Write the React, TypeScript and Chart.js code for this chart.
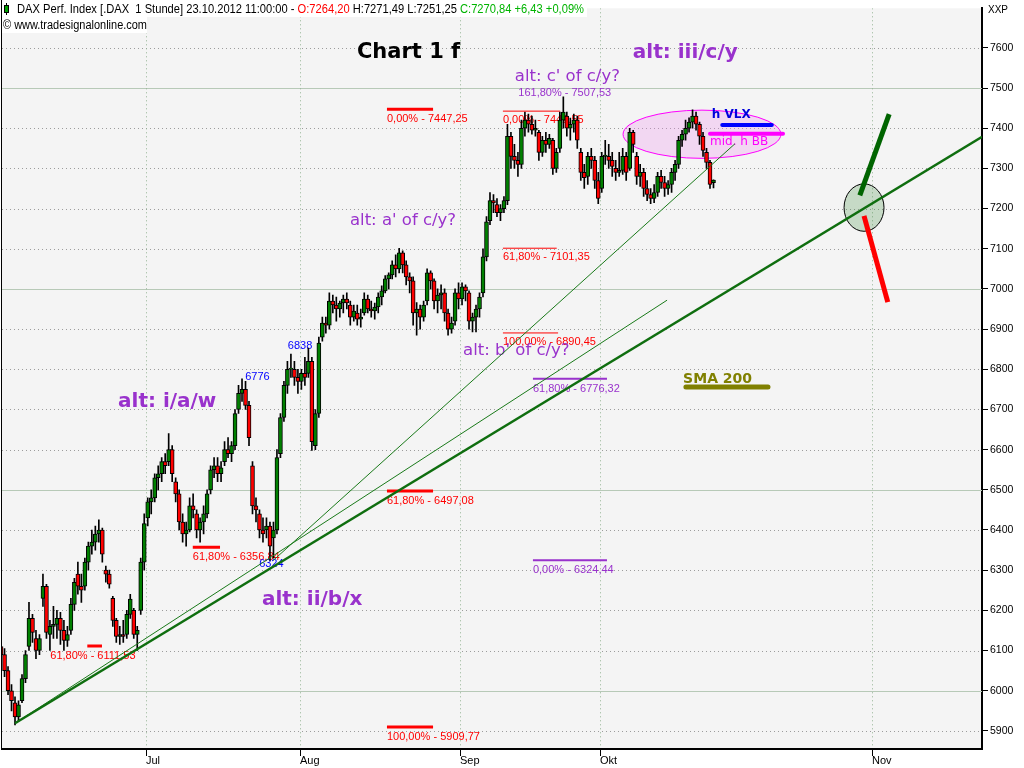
import { useEffect, useRef } from 'react';
import { Chart, registerables } from 'chart.js';

Chart.register(...registerables);

// ---------------- data ----------------
// x unit = trading-day index (0 = Fri 1 Jun 2012); two half-day candles per day: [open, high, low, close]
const juneCandles: number[][] = [
  [6110, 6130, 6080, 6090], [6090, 6105, 6035, 6050],
  [6050, 6060, 5990, 6000], [6000, 6015, 5950, 5975],
  [5970, 5985, 5915, 5935], [5935, 5975, 5925, 5965],
  [5975, 6040, 5970, 6030], [6030, 6100, 6020, 6090],
  [6110, 6220, 6100, 6180], [6180, 6190, 6120, 6145],
  [6130, 6150, 6080, 6100], [6100, 6140, 6090, 6130],
  [6230, 6290, 6210, 6260], [6260, 6265, 6130, 6145],
  [6140, 6175, 6100, 6160], [6160, 6210, 6130, 6165],
  [6165, 6200, 6130, 6180], [6180, 6195, 6115, 6150],
  [6150, 6175, 6100, 6125], [6125, 6160, 6110, 6140],
  [6150, 6230, 6140, 6215], [6215, 6280, 6200, 6270],
  [6290, 6320, 6240, 6260], [6260, 6290, 6220, 6250],
  [6260, 6330, 6250, 6320], [6320, 6370, 6300, 6360],
  [6360, 6400, 6340, 6370], [6370, 6410, 6350, 6390],
  [6390, 6425, 6370, 6400], [6400, 6405, 6320, 6340],
  [6300, 6310, 6270, 6290], [6290, 6300, 6255, 6265],
  [6230, 6235, 6160, 6175], [6175, 6180, 6120, 6135],
  [6135, 6160, 6115, 6140], [6140, 6175, 6120, 6135],
  [6140, 6200, 6130, 6190], [6190, 6240, 6180, 6228],
  [6200, 6205, 6130, 6140], [6140, 6160, 6100, 6150],
  [6200, 6330, 6190, 6320], [6320, 6440, 6300, 6416],
];
const julyCandles: number[][] = [
  [6430, 6480, 6410, 6470], [6470, 6500, 6440, 6480],
  [6480, 6540, 6470, 6530], [6530, 6560, 6500, 6540],
  [6540, 6580, 6520, 6570], [6570, 6590, 6540, 6560],
  [6570, 6640, 6560, 6600], [6600, 6610, 6520, 6540],
  [6520, 6530, 6470, 6490], [6490, 6500, 6400, 6420],
  [6420, 6440, 6370, 6390], [6390, 6420, 6360, 6400],
  [6400, 6480, 6395, 6460], [6460, 6490, 6430, 6450],
  [6440, 6450, 6380, 6400], [6400, 6430, 6370, 6420],
  [6420, 6460, 6390, 6440], [6440, 6500, 6430, 6490],
  [6500, 6560, 6490, 6550], [6550, 6580, 6530, 6560],
  [6560, 6580, 6520, 6540], [6540, 6570, 6520, 6555],
  [6570, 6620, 6560, 6600], [6600, 6630, 6580, 6590],
  [6590, 6620, 6570, 6610], [6610, 6700, 6600, 6690],
  [6700, 6760, 6690, 6740], [6740, 6776, 6720, 6750],
  [6750, 6770, 6700, 6710], [6710, 6720, 6610, 6630],
  [6560, 6570, 6440, 6460], [6460, 6480, 6420, 6450],
  [6440, 6450, 6380, 6400], [6400, 6430, 6370, 6390],
  [6400, 6430, 6380, 6410], [6410, 6420, 6324, 6360],
  [6380, 6420, 6330, 6400], [6400, 6600, 6390, 6580],
  [6590, 6690, 6580, 6680], [6680, 6770, 6670, 6760],
  [6760, 6820, 6740, 6800], [6800, 6838, 6780, 6800],
  [6800, 6820, 6760, 6780], [6780, 6800, 6740, 6770],
];
const augustCandles: number[][] = [
  [6770, 6800, 6750, 6790], [6790, 6830, 6760, 6780],
  [6790, 6853, 6780, 6820], [6820, 6830, 6598, 6620],
  [6610, 6700, 6600, 6690], [6690, 6880, 6680, 6865],
  [6880, 6930, 6870, 6915], [6915, 6930, 6890, 6910],
  [6910, 6990, 6900, 6970], [6970, 6985, 6940, 6960],
  [6960, 6980, 6920, 6950], [6950, 6970, 6930, 6965],
  [6965, 6985, 6940, 6975], [6975, 6990, 6950, 6965],
  [6960, 6970, 6910, 6930], [6930, 6960, 6920, 6945],
  [6940, 6960, 6910, 6925], [6925, 6950, 6905, 6930],
  [6940, 6990, 6935, 6975], [6975, 6985, 6940, 6950],
  [6950, 6970, 6930, 6945], [6945, 6965, 6925, 6955],
  [6955, 6990, 6940, 6980], [6980, 7008, 6960, 6995],
  [6995, 7033, 6990, 7025], [7025, 7040, 7000, 7035],
  [7035, 7070, 7025, 7060], [7060, 7085, 7030, 7050],
  [7050, 7101, 7040, 7090], [7090, 7095, 7040, 7060],
  [7060, 7070, 7010, 7030], [7030, 7040, 6990, 7020],
  [7020, 7030, 6910, 6940], [6940, 6966, 6885, 6950],
  [6950, 6960, 6900, 6930], [6930, 6970, 6920, 6960],
  [6970, 7050, 6960, 7040], [7040, 7045, 7000, 7020],
  [7020, 7025, 6950, 6970], [6970, 7000, 6940, 6985],
  [6985, 7010, 6950, 6990], [6990, 7000, 6920, 6940],
  [6940, 6950, 6885, 6900], [6900, 6930, 6890, 6915],
  [6920, 7000, 6910, 6990], [6990, 7015, 6950, 6975],
];
const septemberCandles: number[][] = [
  [6975, 7015, 6960, 7005], [7005, 7010, 6970, 6995],
  [6990, 6995, 6900, 6920], [6920, 6940, 6893, 6930],
  [6930, 6960, 6893, 6950], [6950, 6990, 6930, 6980],
  [6990, 7100, 6980, 7080], [7080, 7180, 7070, 7167],
  [7170, 7240, 7160, 7220], [7220, 7235, 7190, 7214],
  [7210, 7225, 7180, 7190], [7190, 7210, 7170, 7200],
  [7200, 7230, 7190, 7220], [7220, 7410, 7210, 7380],
  [7380, 7390, 7300, 7330], [7330, 7360, 7300, 7320],
  [7320, 7340, 7280, 7310], [7310, 7420, 7300, 7400],
  [7400, 7440, 7380, 7420], [7420, 7435, 7390, 7410],
  [7410, 7430, 7385, 7395], [7395, 7420, 7380, 7400],
  [7390, 7395, 7320, 7340], [7340, 7380, 7330, 7370],
  [7370, 7390, 7340, 7360], [7360, 7385, 7350, 7375],
  [7370, 7375, 7285, 7300], [7300, 7350, 7290, 7340],
  [7350, 7440, 7340, 7420], [7420, 7478, 7400, 7440],
  [7430, 7440, 7380, 7400], [7400, 7425, 7370, 7410],
  [7410, 7435, 7390, 7420], [7420, 7430, 7350, 7370],
  [7340, 7350, 7270, 7290], [7290, 7310, 7250, 7277],
  [7280, 7340, 7260, 7330], [7330, 7350, 7300, 7320],
  [7320, 7330, 7250, 7270], [7270, 7290, 7212, 7225],
];
const octoberCandles: number[][] = [
  [7250, 7340, 7240, 7330], [7330, 7370, 7310, 7330],
  [7330, 7360, 7300, 7320], [7320, 7340, 7280, 7305],
  [7300, 7320, 7270, 7290], [7290, 7340, 7280, 7295],
  [7295, 7350, 7285, 7330], [7330, 7340, 7270, 7290],
  [7300, 7400, 7295, 7390], [7390, 7395, 7340, 7360],
  [7330, 7340, 7260, 7280], [7280, 7310, 7255, 7290],
  [7290, 7300, 7230, 7250], [7250, 7270, 7220, 7235],
  [7235, 7250, 7212, 7225], [7225, 7260, 7215, 7240],
  [7240, 7290, 7230, 7280], [7280, 7295, 7250, 7265],
  [7265, 7280, 7230, 7250], [7250, 7270, 7235, 7260],
  [7260, 7300, 7240, 7290], [7290, 7320, 7270, 7310],
  [7310, 7380, 7300, 7370], [7370, 7395, 7355, 7385],
  [7385, 7420, 7370, 7400], [7400, 7426, 7390, 7415],
  [7415, 7446, 7400, 7430], [7430, 7440, 7395, 7410],
  [7410, 7415, 7360, 7380], [7380, 7390, 7330, 7345],
  [7340, 7350, 7300, 7315], [7315, 7320, 7250, 7260],
  [7264.2, 7271.49, 7251.25, 7270.84],
];
const firstCandleDay = 0.25;
const candleStep = 0.5;

const yTickValues = [5900, 6000, 6100, 6200, 6300, 6400, 6500, 6600, 6700, 6800, 6900, 7000, 7100, 7200, 7300, 7400, 7500, 7600];
const monthTicks = [
  { label: 'Jul', day: 21 },
  { label: 'Aug', day: 43 },
  { label: 'Sep', day: 66 },
  { label: 'Okt', day: 86 },
  { label: 'Nov', day: 124.9 },
];

// Fibonacci levels: label, price, start day, end day, label anchor day
const redThickLevels = [
  { label: '0,00% - 7447,25', value: 7447.25, from: 55.5, to: 62.1, labelDay: 55.5 },
  { label: '61,80% - 6497,08', value: 6497.08, from: 55.5, to: 62.1, labelDay: 55.5 },
  { label: '100,00% - 5909,77', value: 5909.77, from: 55.5, to: 62.1, labelDay: 55.5 },
  { label: '61,80% - 6356,84', value: 6356.84, from: 27.7, to: 31.6, labelDay: 27.7 },
  { label: '61,80% - 6111,53', value: 6111.53, from: 12.6, to: 14.7, labelDay: 7.3 },
];
const redThinLevels = [
  { label: '0,00% - 7442,55', value: 7442.55, from: 72.1, to: 80.3, labelDay: 72.1 },
  { label: '61,80% - 7101,35', value: 7101.35, from: 72.1, to: 79.8, labelDay: 72.1 },
  { label: '100,00% - 6890,45', value: 6890.45, from: 72.1, to: 80.0, labelDay: 72.1 },
];
const purpleLevels = [
  { label: '61,80% - 6776,32', value: 6776.32, from: 76.4, to: 87.0, labelDay: 76.4 },
  { label: '0,00% - 6324,44', value: 6324.44, from: 76.4, to: 87.0, labelDay: 76.4 },
];
const purpleLevelTexts = [{ text: '161,80% - 7507,53', day: 74.3, value: 7487 }];

const pivotLabels = [
  { text: '6838', day: 41.3, value: 6857 },
  { text: '6776', day: 35.2, value: 6782 },
  { text: '6324', day: 37.2, value: 6315 },
];
const waveLabelsBold = [
  { text: 'alt: i/a/w', day: 17.0, value: 6719 },
  { text: 'alt: ii/b/x', day: 37.6, value: 6227 },
  { text: 'alt: iii/c/y', day: 90.7, value: 7588 },
];
const waveLabelsNormal = [
  { text: "alt: c' of c/y?", day: 73.8, value: 7529 },
  { text: "alt: a' of c/y?", day: 50.2, value: 7169 },
  { text: "alt: b' of c/y?", day: 66.4, value: 6847 },
];
const titleLabel = { text: 'Chart 1 f', day: 51.2, value: 7588 };

// trend lines [day, price]
const mainTrend = [[2.25, 5919], [140.7, 7378.5]];
const thinTrendA = [[39.2, 6324], [105.3, 7361]];
const thinTrendB = [[2.25, 5919], [95.6, 6972]];
const upArrow = [[123.2, 7233], [127.4, 7435]];
const downArrow = [[123.8, 7182], [127.2, 6967]];

// indicator markers
const vlxMarker = { text: 'h VLX', textDay: 102.0, textValue: 7433, line: [[103.5, 7408], [110.6, 7408]] };
const bbMarker = { text: 'mid. h BB', textDay: 101.75, textValue: 7366, line: [[101.75, 7386], [112.2, 7386]] };
const smaMarker = { text: 'SMA 200', textDay: 97.9, textValue: 6775, line: [[98.3, 6756], [110.05, 6756]] };

const zoneEllipse = { day: 100.6, value: 7385, dayRadius: 11.3, valueRadius: 60 };
const targetCircle = { day: 123.8, value: 7202.5, dayRadius: 2.86, valueRadius: 59 };

const headerParts = [
  { text: 'DAX Perf. Index [.DAX  1 Stunde] 23.10.2012 11:00:00 - ', color: '#000000' },
  { text: 'O:7264,20 ', color: '#ff0000' },
  { text: 'H:7271,49 L:7251,25 ', color: '#000000' },
  { text: 'C:7270,84 +6,43 +0,09%', color: '#00b400' },
];
const headerLine2 = '\u00a9 www.tradesignalonline.com';

// ---------------- helpers ----------------
const SANS = '"Liberation Sans", Arial, sans-serif';
const WIDE = '"DejaVu Sans", Verdana, sans-serif';
const PURPLE = '#9932cc';

const xMin = 0.387;
const xMax = 140.69;
const yMin = 5857.4;
const yMax = 7698.5;

const allCandles = [...juneCandles, ...julyCandles, ...augustCandles, ...septemberCandles, ...octoberCandles];
const candleDays = allCandles.map((_, i) => firstCandleDay + i * candleStep);

const seg = (pts: number[][]) => pts.map(([x, y]) => ({ x, y }));

function lineDs(pts: number[][], color: string, width: number, order = 0, cap: CanvasLineCap = 'butt') {
  return {
    type: 'line' as const,
    data: seg(pts),
    borderColor: color,
    borderWidth: width,
    borderCapStyle: cap,
    pointRadius: 0,
    fill: false,
    tension: 0,
    order,
  };
}

const annotationPlugin = {
  id: 'annotations',
  beforeDraw(chart: any) {
    const { ctx, chartArea: a } = chart;
    ctx.save();
    ctx.fillStyle = '#ffffff';
    ctx.fillRect(0, 0, chart.width, chart.height);
    ctx.fillStyle = '#f4f4f4';
    ctx.fillRect(a.left, a.top, a.right - a.left, a.bottom - a.top);
    ctx.restore();
  },
  beforeDatasetsDraw(chart: any) {
    const { ctx, chartArea: a } = chart;
    const xs = chart.scales.x;
    const ys = chart.scales.y;
    const px = (d: number) => xs.getPixelForValue(d);
    const py = (v: number) => ys.getPixelForValue(v);
    ctx.save();
    ctx.beginPath();
    ctx.rect(a.left, a.top, a.right - a.left, a.bottom - a.top);
    ctx.clip();

    // grid
    ctx.lineWidth = 1;
    for (const v of yTickValues) {
      const y = Math.round(py(v)) + 0.5;
      if (v % 500 === 0) {
        ctx.setLineDash([]);
        ctx.strokeStyle = '#b7c9b7';
      } else {
        ctx.setLineDash([1, 3]);
        ctx.strokeStyle = '#9c9c9c';
      }
      ctx.beginPath();
      ctx.moveTo(a.left, y);
      ctx.lineTo(a.right, y);
      ctx.stroke();
    }
    ctx.setLineDash([1, 3]);
    ctx.strokeStyle = '#93b393';
    for (const m of monthTicks) {
      const x = Math.round(px(m.day)) + 0.5;
      ctx.beginPath();
      ctx.moveTo(x, a.top);
      ctx.lineTo(x, a.bottom);
      ctx.stroke();
    }
    ctx.setLineDash([]);

    // ellipse zone
    {
      const cx = px(zoneEllipse.day);
      const cy = py(zoneEllipse.value);
      const rx = px(zoneEllipse.day + zoneEllipse.dayRadius) - cx;
      const ry = cy - py(zoneEllipse.value + zoneEllipse.valueRadius);
      ctx.beginPath();
      ctx.ellipse(cx, cy, rx, ry, 0, 0, Math.PI * 2);
      ctx.fillStyle = 'rgba(238, 140, 238, 0.28)';
      ctx.fill();
      ctx.strokeStyle = '#ff00ff';
      ctx.lineWidth = 1;
      ctx.stroke();
    }
    // target circle
    {
      const cx = px(targetCircle.day);
      const cy = py(targetCircle.value);
      const rx = px(targetCircle.day + targetCircle.dayRadius) - cx;
      const ry = cy - py(targetCircle.value + targetCircle.valueRadius);
      ctx.beginPath();
      ctx.ellipse(cx, cy, rx, ry, 0, 0, Math.PI * 2);
      ctx.fillStyle = 'rgba(60, 140, 60, 0.25)';
      ctx.fill();
      ctx.strokeStyle = '#000000';
      ctx.lineWidth = 1;
      ctx.stroke();
    }

    const text = (t: string, d: number, v: number, font: string, color: string) => {
      ctx.font = font;
      ctx.fillStyle = color;
      ctx.textAlign = 'left';
      ctx.textBaseline = 'middle';
      ctx.fillText(t, px(d), py(v));
    };

    // fib labels (just below their lines)
    const small = `11px ${SANS}`;
    for (const l of redThickLevels) {
      ctx.font = small; ctx.fillStyle = '#ff0000'; ctx.textAlign = 'left'; ctx.textBaseline = 'middle';
      ctx.fillText(l.label, px(l.labelDay), py(l.value) + 10);
    }
    for (const l of redThinLevels) {
      ctx.font = small; ctx.fillStyle = '#ff0000'; ctx.textAlign = 'left'; ctx.textBaseline = 'middle';
      ctx.fillText(l.label, px(l.labelDay), py(l.value) + 9);
    }
    for (const l of purpleLevels) {
      ctx.font = small; ctx.fillStyle = PURPLE; ctx.textAlign = 'left'; ctx.textBaseline = 'middle';
      ctx.fillText(l.label, px(l.labelDay), py(l.value) + 10);
    }
    for (const l of purpleLevelTexts) text(l.text, l.day, l.value, small, PURPLE);
    for (const l of pivotLabels) text(l.text, l.day, l.value, small, '#0000ff');

    for (const l of waveLabelsBold) text(l.text, l.day, l.value, `bold 20px ${WIDE}`, PURPLE);
    for (const l of waveLabelsNormal) text(l.text, l.day, l.value, `16.5px ${WIDE}`, PURPLE);
    text(titleLabel.text, titleLabel.day, titleLabel.value, `bold 21px ${WIDE}`, '#000000');

    text(vlxMarker.text, vlxMarker.textDay, vlxMarker.textValue, `bold 12px ${WIDE}`, '#0000dd');
    text(bbMarker.text, bbMarker.textDay, bbMarker.textValue, `12px ${WIDE}`, '#ff00ff');
    text(smaMarker.text, smaMarker.textDay, smaMarker.textValue, `bold 14px ${WIDE}`, '#808000');

    ctx.restore();
  },
  afterDraw(chart: any) {
    const { ctx, chartArea: a } = chart;
    const xs = chart.scales.x;
    ctx.save();
    // frame
    ctx.strokeStyle = '#000000';
    ctx.lineWidth = 1;
    ctx.beginPath();
    ctx.moveTo(a.left - 0.5, 0);
    ctx.lineTo(a.left - 0.5, a.bottom);
    ctx.stroke();
    ctx.lineWidth = 2;
    ctx.beginPath();
    ctx.moveTo(a.left - 1, a.bottom + 1);
    ctx.lineTo(a.right + 1, a.bottom + 1);
    ctx.stroke();

    // x ticks and labels
    ctx.lineWidth = 1;
    ctx.font = `11px ${SANS}`;
    ctx.fillStyle = '#000000';
    ctx.textAlign = 'left';
    ctx.textBaseline = 'middle';
    for (const m of monthTicks) {
      const x = Math.round(xs.getPixelForValue(m.day)) + 0.5;
      ctx.beginPath();
      ctx.moveTo(x, a.bottom + 2);
      ctx.lineTo(x, a.bottom + 8);
      ctx.stroke();
      ctx.fillText(m.label, x - 0.5, a.bottom + 13);
    }

    // header (continuous coloured text, squeezed to the original line length)
    ctx.fillStyle = '#ffffff';
    ctx.fillRect(a.left, 0, 587 - a.left, 17);
    ctx.fillRect(a.left, 17, 147 - a.left, 16);
    ctx.fillStyle = '#000000';
    ctx.fillRect(6, 3, 1, 12);
    ctx.fillRect(4, 5, 5, 8);
    ctx.fillStyle = '#00a000';
    ctx.fillRect(5, 6, 3, 6);
    ctx.font = `12px ${SANS}`;
    ctx.textBaseline = 'alphabetic';
    const total = headerParts.reduce((s, p) => s + ctx.measureText(p.text).width, 0);
    const sx = Math.min(1, (584 - 17) / total);
    ctx.save();
    ctx.translate(17, 13);
    ctx.scale(sx, 1);
    let cx = 0;
    for (const p of headerParts) {
      ctx.fillStyle = p.color;
      ctx.fillText(p.text, cx, 0);
      cx += ctx.measureText(p.text).width;
    }
    ctx.restore();
    ctx.fillStyle = '#000000';
    ctx.font = `12px ${SANS}`;
    ctx.fillText(headerLine2, 3, 29, 144);

    ctx.font = `10px ${SANS}`;
    ctx.textBaseline = 'middle';
    ctx.fillText('XXP', 988, 10);
    ctx.restore();
  },
};

export default function App() {
  const canvasRef = useRef<HTMLCanvasElement | null>(null);

  useEffect(() => {
    const canvas = canvasRef.current;
    if (!canvas) return;

    const wicks = allCandles.map((c, i) => ({ x: candleDays[i], y: [c[2], c[1]] }));
    const bodies = allCandles.map((c, i) => {
      const lo = Math.min(c[0], c[3]);
      let hi = Math.max(c[0], c[3]);
      if (hi - lo < 3) hi = lo + 3;
      return { x: candleDays[i], y: [lo, hi] };
    });
    const bodyColors = allCandles.map((c) => (c[3] >= c[0] ? '#008000' : '#ff0000'));

    const levelLines: any[] = [];
    for (const l of redThickLevels) levelLines.push(lineDs([[l.from, l.value], [l.to, l.value]], '#ff0000', 3, 1));
    for (const l of redThinLevels) levelLines.push(lineDs([[l.from, l.value], [l.to, l.value]], '#ff0000', 1, 1));
    for (const l of purpleLevels) levelLines.push(lineDs([[l.from, l.value], [l.to, l.value]], PURPLE, 2, 1));

    const chart = new Chart(canvas, {
      type: 'bar',
      data: {
        datasets: [
          lineDs(mainTrend, '#0f6e0f', 2.5, 0),
          lineDs(thinTrendA, '#1a7a1a', 1, 0),
          lineDs(thinTrendB, '#1a7a1a', 1, 0),
          lineDs(upArrow, '#006400', 5, 0),
          lineDs(downArrow, '#ff0000', 5, 0),
          lineDs(vlxMarker.line, '#0000ff', 4, 0, 'round'),
          lineDs(bbMarker.line, '#ff00ff', 4, 0, 'round'),
          lineDs(smaMarker.line, '#808000', 5, 0, 'round'),
          ...levelLines,
          {
            type: 'bar' as const,
            data: bodies as any,
            backgroundColor: bodyColors,
            borderColor: '#000000',
            borderWidth: 1,
            borderSkipped: false,
            barThickness: 4,
            grouped: false,
            order: 2,
          },
          {
            type: 'bar' as const,
            data: wicks as any,
            backgroundColor: '#000000',
            borderWidth: 0,
            barThickness: 1,
            grouped: false,
            order: 3,
          },
        ] as any,
      },
      options: {
        responsive: false,
        maintainAspectRatio: false,
        animation: false,
        devicePixelRatio: 1,
        events: [],
        layout: { padding: { left: 2, right: 0, top: 0, bottom: 20 } },
        plugins: { legend: { display: false }, tooltip: { enabled: false }, title: { display: false } },
        scales: {
          x: {
            type: 'linear',
            min: xMin,
            max: xMax,
            offset: false,
            display: false,
          },
          y: {
            type: 'linear',
            position: 'right',
            min: yMin,
            max: yMax,
            afterBuildTicks: (s: any) => {
              s.ticks = yTickValues.map((v) => ({ value: v }));
            },
            afterFit: (s: any) => {
              s.width = 42;
            },
            grid: { drawOnChartArea: false, drawTicks: true, tickLength: 6, tickColor: '#000000', tickWidth: 1 },
            border: { display: true, color: '#000000', width: 2 },
            ticks: {
              color: '#000000',
              font: { family: 'Liberation Sans', size: 10.5 },
              padding: 2,
              autoSkip: false,
              callback: (v: any) => String(v),
            },
          },
        },
      } as any,
      plugins: [annotationPlugin],
    });
    return () => chart.destroy();
  }, []);

  return (
    <div style={{ position: 'absolute', left: 0, top: 0, width: 1024, height: 768, background: '#fff' }}>
      <canvas ref={canvasRef} width={1024} height={768} style={{ display: 'block', width: 1024, height: 768 }} />
    </div>
  );
}
